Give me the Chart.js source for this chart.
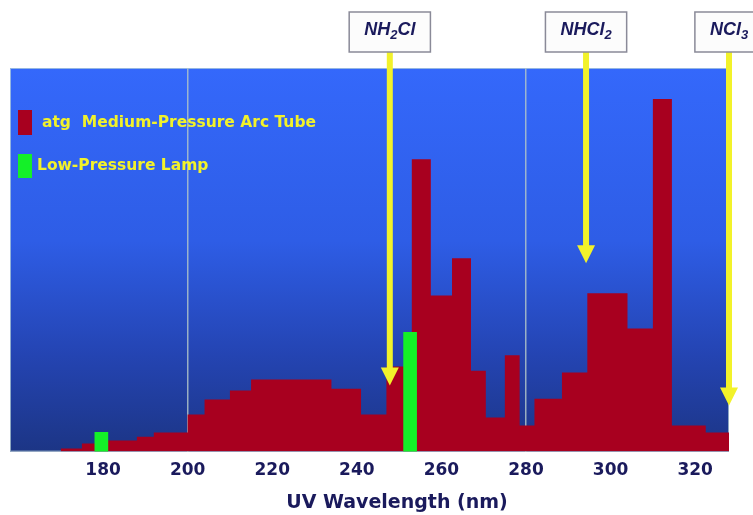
<!DOCTYPE html>
<html>
<head>
<meta charset="utf-8">
<script src="https://cdn.jsdelivr.net/npm/chart.js@4/dist/chart.umd.min.js"></script>
<style>
  html, body { margin: 0; padding: 0; background: #fff; }
</style>
</head>
<body>
<canvas id="uv" width="753" height="515"></canvas>
<script>
// medium-pressure arc tube: bin left edges (nm), last entry closes the final bin
var arcEdges = [170, 175, 180, 188, 192, 200, 204, 210, 215, 234, 241, 247, 253, 257.5, 262.5, 267, 270.5, 275, 278.5, 282, 288.5, 294.5, 304, 310, 314.5, 322.5, 328];
var arcValues = [0.8, 2.1, 2.9, 3.9, 5.0, 9.7, 13.6, 15.9, 18.8, 16.4, 9.7, 22.2, 76.2, 40.7, 50.4, 21.1, 8.9, 25.1, 6.8, 13.8, 20.6, 41.3, 32.1, 91.9, 6.8, 5.0];

// low-pressure lamp lines
var lampLines = [179.6, 252.6];
var lampValues = [5.0, 31.1];

var tickValues = [180, 200, 220, 240, 260, 280, 300, 320];
var gridValues = [200, 280];

// chloramine markers: name ("_" = subscript digit), wavelength, where the arrow stops
var speciesNames = ['NH_2Cl', 'NHCl_2', 'NCl_3'];
var speciesNm = [247.8, 294.2, 328];
var speciesTip = [17.2, 49.1, 12.0];

var RED = '#a8001f', GREEN = '#14f028', YELLOW = '#f2f22a', NAVY = '#1a1a5c';

var arcPoints = arcEdges.map(function(x, i) {
  return {x: x, y: arcValues[Math.min(i, arcValues.length - 1)]};
});
var lampPoints = lampLines.map(function(x, i) {
  return {x: x, y: lampValues[i]};
});

var plotBackground = {
  id: 'plotBackground',
  beforeDraw: function(chart) {
    var a = chart.chartArea, c = chart.ctx;
    var g = c.createLinearGradient(0, a.top, 0, a.bottom);
    g.addColorStop(0, '#3468fb');
    g.addColorStop(0.45, '#2e5de6');
    g.addColorStop(0.75, '#2444b2');
    g.addColorStop(1, '#1c3585');
    c.save();
    c.fillStyle = g;
    c.fillRect(a.left, a.top, a.right - a.left, a.bottom - a.top);
    c.strokeStyle = 'rgba(190,215,215,0.7)';
    c.lineWidth = 1;
    c.strokeRect(a.left + 0.5, a.top + 0.5, a.right - a.left - 1, a.bottom - a.top - 1);
    c.restore();
  }
};

function formulaPieces(c, name, size) {
  var parts = name.split('_');
  var big = 'italic bold ' + size + 'px "Liberation Sans", Arial, sans-serif';
  var small = 'italic bold ' + Math.round(size * 0.7) + 'px "Liberation Sans", Arial, sans-serif';
  var pieces = [{t: parts[0], f: big, dy: 0}];
  if (parts.length > 1) {
    pieces.push({t: parts[1].charAt(0), f: small, dy: size * 0.3});
    if (parts[1].length > 1) pieces.push({t: parts[1].slice(1), f: big, dy: 0});
  }
  pieces.width = 0;
  pieces.forEach(function(p) { c.font = p.f; p.w = c.measureText(p.t).width; pieces.width += p.w; });
  return pieces;
}

var overlay = {
  id: 'overlay',
  afterDatasetsDraw: function(chart) {
    var c = chart.ctx, xs = chart.scales.x, ys = chart.scales.y;
    c.save();

    // arrows and labelled boxes
    speciesNames.forEach(function(name, i) {
      var x = xs.getPixelForValue(speciesNm[i]);
      var tip = ys.getPixelForValue(speciesTip[i]);
      var boxTop = 12, boxBottom = 52;
      c.fillStyle = YELLOW;
      c.fillRect(x - 3, boxBottom, 6, tip - 17 - boxBottom);
      c.beginPath();
      c.moveTo(x - 9, tip - 18);
      c.lineTo(x + 9, tip - 18);
      c.lineTo(x, tip);
      c.closePath();
      c.fill();

      var pieces = formulaPieces(c, name, 18);
      var bw = pieces.width + 30;
      c.fillStyle = '#fcfcfc';
      c.fillRect(x - bw / 2, boxTop, bw, boxBottom - boxTop);
      c.strokeStyle = '#8a8a98';
      c.lineWidth = 1.5;
      c.strokeRect(x - bw / 2, boxTop, bw, boxBottom - boxTop);
      var tx = x - pieces.width / 2, midY = (boxTop + boxBottom) / 2 - 2;
      c.fillStyle = NAVY;
      c.textBaseline = 'middle';
      c.textAlign = 'left';
      pieces.forEach(function(p) { c.font = p.f; c.fillText(p.t, tx, midY + p.dy); tx += p.w; });
    });

    // legend inside the plot
    var ds = chart.data.datasets;
    c.font = 'bold 15.5px "DejaVu Sans", Verdana, sans-serif';
    c.textBaseline = 'middle';
    c.textAlign = 'left';
    c.fillStyle = ds[1].backgroundColor;
    c.fillRect(18, 110, 14, 25);
    c.fillStyle = YELLOW;
    c.fillText(ds[1].label, 42, 123);
    c.fillStyle = ds[0].backgroundColor;
    c.fillRect(18, 154, 14, 24);
    c.fillStyle = YELLOW;
    c.fillText(ds[0].label, 37, 166);

    // axis title, sits a little right of centre in the original
    c.font = 'bold 19px "DejaVu Sans", Verdana, sans-serif';
    c.fillStyle = NAVY;
    c.textAlign = 'center';
    c.fillText('UV Wavelength (nm)', 397, 503);
    c.restore();
  }
};

new Chart(document.getElementById('uv').getContext('2d'), {
  type: 'line',
  data: {
    datasets: [{
      type: 'bar',
      label: 'Low-Pressure Lamp',
      data: lampPoints,
      backgroundColor: GREEN,
      barThickness: 13,
      order: 0
    }, {
      type: 'line',
      label: 'atg  Medium-Pressure Arc Tube',
      data: arcPoints,
      backgroundColor: RED,
      borderWidth: 0,
      pointRadius: 0,
      stepped: true,
      fill: 'origin',
      order: 1
    }]
  },
  options: {
    responsive: false,
    animation: false,
    layout: {padding: {left: 10, right: 24, top: 68, bottom: 25}},
    plugins: {legend: {display: false}, tooltip: {enabled: false}},
    scales: {
      x: {
        type: 'linear',
        min: 158,
        max: 328,
        offset: false,
        afterBuildTicks: function(scale) {
          scale.ticks = tickValues.map(function(v) { return {value: v}; });
        },
        ticks: {
          color: NAVY,
          padding: 9,
          maxRotation: 0,
          font: {family: '"DejaVu Sans", Verdana, sans-serif', size: 17, weight: 'bold'}
        },
        grid: {
          offset: false,
          drawTicks: false,
          lineWidth: 1.5,
          color: function(ctx) {
            return ctx.tick && gridValues.indexOf(ctx.tick.value) >= 0 ? 'rgba(175,195,200,0.85)' : 'rgba(0,0,0,0)';
          }
        },
        border: {display: false}
      },
      y: {
        display: false,
        min: 0,
        max: 100
      }
    }
  },
  plugins: [plotBackground, overlay]
});
</script>
</body>
</html>
